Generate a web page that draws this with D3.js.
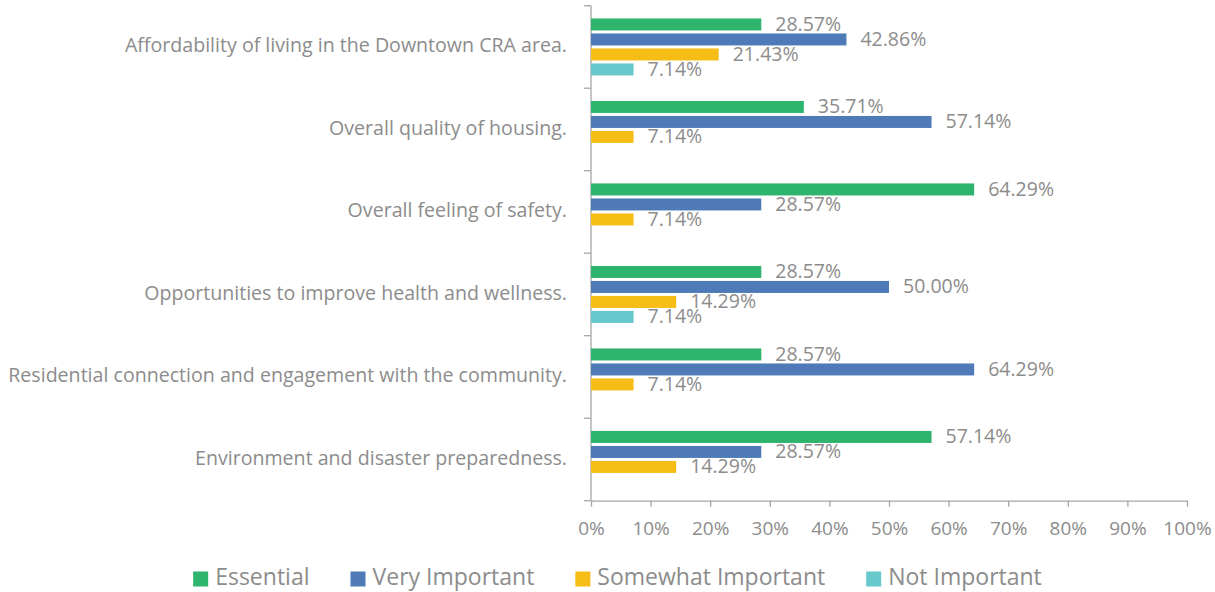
<!DOCTYPE html>
<html>
<head>
<meta charset="utf-8">
<script src="https://cdn.jsdelivr.net/npm/d3@7"></script>
<style>
    body { margin: 0; background: #fff; }
    text { font-family: "Open Sans", sans-serif; fill: #8c8c8c; }
</style>
</head>
<body>
<div id="viz"></div>
<script>
const categories = [
    "Affordability of living in the Downtown CRA area.",
    "Overall quality of housing.",
    "Overall feeling of safety.",
    "Opportunities to improve health and wellness.",
    "Residential connection and engagement with the community.",
    "Environment and disaster preparedness."
]
const series = ["Essential", "Very Important", "Somewhat Important", "Not Important"]
const essential = [28.57, 35.71, 64.29, 28.57, 28.57, 57.14]
const veryImportant = [42.86, 57.14, 28.57, 50.00, 64.29, 28.57]
const somewhatImportant = [21.43, 7.14, 7.14, 14.29, 7.14, 14.29]
const notImportant = [7.14, 0, 0, 7.14, 0, 0]
const xTicks = [0, 10, 20, 30, 40, 50, 60, 70, 80, 90, 100]
const colors = ["#2eb46c", "#4e7bb8", "#f6bd16", "#67c8cc"]

class GroupBar {
    constructor(id) {
        this.id = id
        this.W = 1215
        this.H = 592
        this.margin = { top: 5.7, right: 28, bottom: 91, left: 591 }
        this.innerW = 1187 - this.margin.left
        this.innerH = 500.7 - this.margin.top
        this.rows = categories.map((c, i) => ({
            name: c,
            values: [essential[i], veryImportant[i], somewhatImportant[i], notImportant[i]]
        }))
        this.add_svg()
        this.add_scale()
        this.add_axis()
        this.draw_chart()
        this.add_legends()
    }

    add_svg() {
        this.svg = d3.select('#' + this.id).append('svg')
            .attr('width', this.W).attr('height', this.H)
        this.ChartArea = this.svg.append('g')
            .attr('transform', `translate(${this.margin.left},${this.margin.top})`)
    }

    add_scale() {
        this.x = d3.scaleLinear().domain([0, 100]).range([0, this.innerW])
        this.y = d3.scaleBand().domain(categories).range([0, this.innerH])
        this.y1 = d3.scaleBand().domain(series).range([0, this.y.bandwidth()])
            .paddingInner(0.2).paddingOuter(0.85)
        this.color = d3.scaleOrdinal().domain(series).range(colors)
    }

    add_axis() {
        let ax = this.ChartArea.append('g')
            .attr('transform', `translate(0,${this.innerH})`)
            .call(d3.axisBottom(this.x).tickValues(xTicks).tickSize(6).tickSizeOuter(0).tickFormat(d => d + '%'))
        ax.select('.domain').attr('stroke', '#a6a6a6').attr('stroke-width', 1.3)
        ax.selectAll('.tick line').attr('stroke', '#a6a6a6').attr('stroke-width', 1.3)
        ax.selectAll('.tick text').attr('y', 21).attr('font-size', 19)
            .style('font-family', '"Open Sans", sans-serif').attr('fill', '#8c8c8c')

        // band boundaries as ticks on the left axis
        let bounds = d3.range(categories.length + 1).map(i => i * this.y.step())
        let ay = this.ChartArea.append('g')
        ay.append('line').attr('x1', 0).attr('x2', 0).attr('y1', 0).attr('y2', this.innerH)
            .attr('stroke', '#a6a6a6').attr('stroke-width', 1.3)
        ay.selectAll('.bt').data(bounds).join('line').attr('class', 'bt')
            .attr('x1', -7).attr('x2', 0).attr('y1', d => d).attr('y2', d => d)
            .attr('stroke', '#a6a6a6').attr('stroke-width', 1.3)
        ay.selectAll('text').data(categories).join('text')
            .attr('x', -24)
            .attr('y', d => this.y(d) + this.y.bandwidth() / 2)
            .attr('text-anchor', 'end')
            .attr('dominant-baseline', 'middle')
            .attr('font-size', 19.6)
            .text(d => d)
    }

    draw_chart() {
        let groups = this.ChartArea.selectAll('.grp').data(this.rows).join('g')
            .attr('class', 'grp')
            .attr('transform', d => `translate(0,${this.y(d.name)})`)
        let items = groups.selectAll('.item')
            .data(d => d.values.map((v, i) => ({ key: series[i], value: v })).filter(e => e.value > 0))
            .join('g').attr('class', 'item')
        items.append('rect')
            .attr('x', 0)
            .attr('y', d => this.y1(d.key))
            .attr('width', d => this.x(d.value))
            .attr('height', this.y1.bandwidth())
            .attr('fill', d => this.color(d.key))
        items.append('text')
            .attr('x', d => this.x(d.value) + 14)
            .attr('y', d => this.y1(d.key) + this.y1.bandwidth() / 2 + 1)
            .attr('dominant-baseline', 'middle')
            .attr('font-size', 19.5)
            .text(d => d.value.toFixed(2) + '%')
    }

    add_legends() {
        let g = this.svg.append('g').attr('transform', 'translate(0,579)')
        let items = g.selectAll('g').data(series).join('g')
        items.append('rect').attr('x', 0).attr('y', -7.5).attr('width', 15).attr('height', 15)
            .attr('fill', d => this.color(d))
        items.append('text').attr('x', 22).attr('y', 0).attr('dominant-baseline', 'middle')
            .attr('font-size', 23).text(d => d)
        let pos = 0
        let xs = []
        items.each(function () {
            xs.push(pos)
            pos += this.getBBox().width + 41
        })
        let total = pos - 41
        let start = 617.5 - total / 2
        items.attr('transform', (d, i) => `translate(${start + xs[i]},0)`)
    }
}

new GroupBar('viz')
</script>
</body>
</html>
